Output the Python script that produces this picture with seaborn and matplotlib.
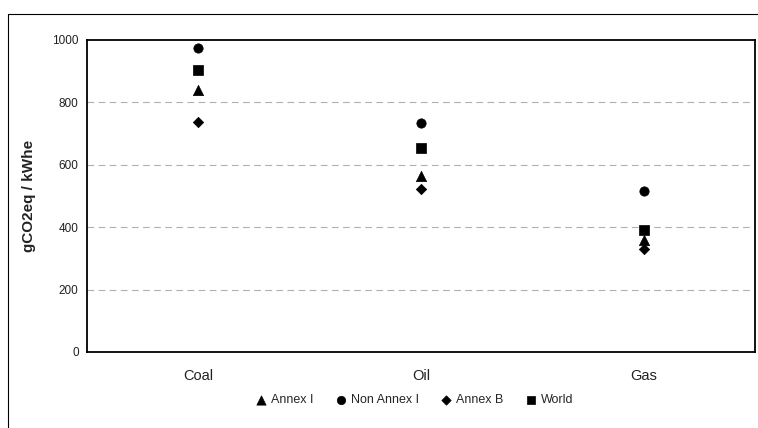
import numpy as np
import pandas as pd
import matplotlib
matplotlib.use("Agg")
import matplotlib.pyplot as plt
from matplotlib.lines import Line2D
import seaborn as sns

FUELS    = ["Coal", "Oil", "Gas"]
SERIES   = ["Annex I", "Non Annex I", "Annex B", "World"]
ANNEX_I  = [840, 565, 359]
NON_ANNEX= [975, 735, 517]
ANNEX_B  = [736, 523, 330]
WORLD    = [903, 654, 391]
Y_TICKS  = [0, 200, 400, 600, 800, 1000]

MARKERS = {"Annex I": "^", "Non Annex I": "o", "Annex B": "D", "World": "s"}
SIZES   = {"Annex I": 55, "Non Annex I": 45, "Annex B": 28, "World": 42}

sns.set_style("white")
plt.rcParams["font.family"] = ["Liberation Sans", "DejaVu Sans"]

rows = []
for name, vals in zip(SERIES, [ANNEX_I, NON_ANNEX, ANNEX_B, WORLD]):
    for fuel, v in zip(FUELS, vals):
        rows.append({"fuel": fuel, "series": name, "value": v})
df = pd.DataFrame(rows)

fig = plt.figure(figsize=(7.58, 4.28), dpi=100)
ax = fig.add_axes([87 / 758, 1 - 352 / 428, (755 - 87) / 758, (352 - 40) / 428])

for name in SERIES:
    sub = df[df["series"] == name]
    sns.scatterplot(data=sub, x="fuel", y="value", marker=MARKERS[name],
                    s=SIZES[name], color="black", edgecolor="black",
                    linewidth=0.5, ax=ax, label=name, zorder=3)

ax.set_xlim(-0.5, 2.5)
ax.set_ylim(0, 1000)
ax.set_yticks(Y_TICKS)
ax.set_yticklabels([str(t) for t in Y_TICKS], fontsize=8.5, color="#222222")
ax.set_xticks(range(len(FUELS)))
ax.set_xticklabels(FUELS, fontsize=10.5, color="#222222")
ax.set_xticks([-0.5, 0.5, 1.5, 2.5], minor=True)
ax.tick_params(axis="x", which="major", length=0, pad=12)
ax.tick_params(axis="x", which="minor", length=4, width=0.8, direction="out")
ax.tick_params(axis="y", length=4, width=0.8, direction="out", pad=2)
ax.set_xlabel("")
ax.set_ylabel("gCO2eq / kWhe", fontsize=11, fontweight="bold", labelpad=12,
              color="#222222")

for t in Y_TICKS[1:-1]:
    ax.axhline(t, color="#b0b0b0", lw=0.8, ls=(0, (6, 4)), zorder=1)

for side in ["left", "bottom", "top", "right"]:
    ax.spines[side].set_visible(True)
    ax.spines[side].set_color("black")
    ax.spines[side].set_linewidth(1.3)

handles, labels = ax.get_legend_handles_labels()
ax.get_legend().remove()
fig.legend(handles, labels, loc="center", bbox_to_anchor=(0.542, 1 - 400 / 428),
           ncol=4, frameon=False, fontsize=9, handletextpad=-0.2,
           columnspacing=1.2, markerscale=0.9)

# outer chart frame (top and left edges)
fig.add_artist(Line2D([8 / 758, 1.0], [1 - 14 / 428, 1 - 14 / 428],
                      transform=fig.transFigure, color="black", lw=0.8))
fig.add_artist(Line2D([8 / 758, 8 / 758], [1 - 14 / 428, 0.0],
                      transform=fig.transFigure, color="black", lw=0.8))

fig.savefig("out.png", dpi=100)
